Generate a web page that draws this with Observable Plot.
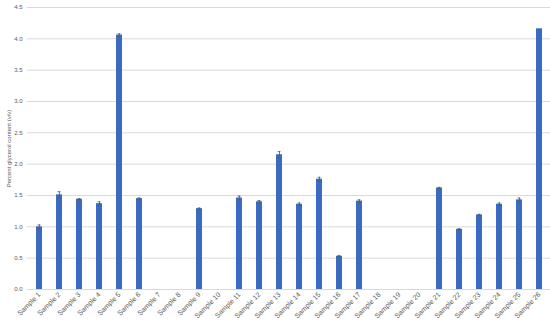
<!DOCTYPE html>
<html><head><meta charset="utf-8">
<script src="https://cdn.jsdelivr.net/npm/d3@7"></script>
<script src="https://cdn.jsdelivr.net/npm/@observablehq/plot@0.6"></script>
<style>body{margin:0;background:#fff;} svg{display:block;}</style>
</head><body><div id="chart"></div>
<script>
const samples = Array.from({length: 26}, (_, i) => `Sample ${i + 1}`);
const values = [1.00, 1.51, 1.44, 1.37, 4.06, 1.45, 0, 0, 1.29, 0, 1.46, 1.40, 2.15, 1.36, 1.76, 0.53, 1.41, 0, 0, 0, 1.62, 0.96, 1.19, 1.36, 1.43, 4.16];
const errors = [0.03, 0.05, 0.01, 0.03, 0.02, 0.01, 0, 0, 0.01, 0, 0.03, 0.02, 0.05, 0.02, 0.03, 0.01, 0.02, 0, 0, 0, 0.01, 0.01, 0.01, 0.02, 0.03, 0];
const yTicks = [0, 0.5, 1, 1.5, 2, 2.5, 3, 3.5, 4, 4.5];

const data = samples.map((s, i) => ({sample: s, value: values[i], err: errors[i]}));
const withErr = data.filter(d => d.err > 0);

const chart = Plot.plot({
  width: 550,
  height: 330,
  marginLeft: 27,
  marginRight: 0,
  marginTop: 7,
  marginBottom: 41,
  style: {fontFamily: "Liberation Sans, Arial, sans-serif", fontSize: "6px", color: "#595959"},
  x: {domain: samples, paddingInner: 0.7, paddingOuter: 0.35, align: 0.5, label: null},
  y: {domain: [0, 4.5], ticks: yTicks, tickFormat: d3.format(".1f"), label: "Percent glycerol content (v/v)", labelAnchor: "center", labelArrow: "none", labelOffset: 21, tickSize: 0, tickPadding: 5},
  marks: [
    Plot.gridY(yTicks, {stroke: "#d9d9d9", strokeOpacity: 1, strokeWidth: 1}),
    Plot.barY(data, {x: "sample", y: "value", fill: "#3a6bc0"}),
    Plot.ruleX(withErr, {x: "sample", y1: d => d.value - d.err, y2: d => d.value + d.err, stroke: "#595959", strokeWidth: 0.8}),
    Plot.tickY(withErr, {x: "sample", y: d => d.value + d.err, stroke: "#595959", strokeWidth: 0.8, insetLeft: 1.5, insetRight: 1.5}),
    Plot.tickY(withErr, {x: "sample", y: d => d.value - d.err, stroke: "#595959", strokeWidth: 0.8, insetLeft: 1.5, insetRight: 1.5}),
    Plot.axisX({tickSize: 0, tickRotate: -45, tickPadding: 4, fontSize: 7, label: null})
  ]
});
document.getElementById("chart").append(chart);
</script>
</body></html>
